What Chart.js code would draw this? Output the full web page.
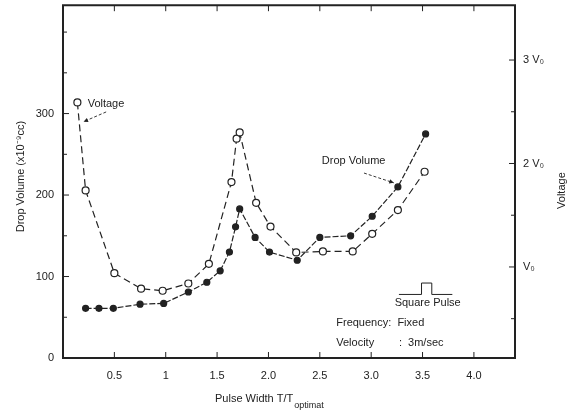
<!DOCTYPE html>
<html>
<head>
<meta charset="utf-8">
<script src="https://cdn.jsdelivr.net/npm/chart.js@4.4.1/dist/chart.umd.min.js"></script>
<style>
  body { margin: 0; background: #fff; }
  canvas { display: block; }
</style>
</head>
<body>
<canvas id="chart" width="568" height="413"></canvas>
<script>
// drop volume (filled dots, left axis, x10^-9 cc)
const dropX = [0.22, 0.35, 0.49, 0.75, 0.98, 1.22, 1.40, 1.53, 1.62, 1.68, 1.72, 1.87, 2.01, 2.28, 2.50, 2.80, 3.01, 3.26, 3.53];
const dropVolume = [61, 61, 61, 66, 67, 81, 93, 107, 130, 161, 183, 148, 130, 120, 148, 150, 174, 210, 275];

// voltage (open circles, right axis, in units of V0)
const voltX = [0.14, 0.22, 0.50, 0.76, 0.97, 1.22, 1.42, 1.64, 1.69, 1.72, 1.88, 2.02, 2.27, 2.53, 2.82, 3.01, 3.26, 3.52];
const voltage = [2.59, 1.74, 0.94, 0.79, 0.77, 0.84, 1.03, 1.82, 2.24, 2.30, 1.62, 1.39, 1.14, 1.15, 1.15, 1.32, 1.55, 1.92];

// tick values and labels
const xTicks = [0.5, 1, 1.5, 2, 2.5, 3, 3.5, 4];
const xTickLabels = ['0.5', '1', '1.5', '2.0', '2.5', '3.0', '3.5', '4.0'];
const leftTicks = [0, 50, 100, 150, 200, 250, 300, 350, 400];
const leftTickLabels = ['0', '', '100', '', '200', '', '300', '', ''];
const rightTicks = [0.5, 1, 1.5, 2, 2.5, 3];
const rightTickLabels = ['', 'V\u2080', '', '2 V\u2080', '', '3 V\u2080'];

const ink = '#222';
const font = '"Liberation Sans", Arial, sans-serif';

function setTicks(values) {
    return function (scale) {
        scale.ticks = values.map(v => ({ value: v }));
    };
}

function labelFrom(values, labels) {
    return function (value) {
        const i = values.indexOf(value);
        return i >= 0 ? labels[i] : '';
    };
}

// keep the plot box where the figure has it, no room kept for label overhang
function fitTo(w, h) {
    return function (scale) {
        if (w !== null) scale.width = w;
        if (h !== null) scale.height = h;
        scale.paddingTop = 0;
        scale.paddingBottom = 0;
        scale.paddingLeft = 0;
        scale.paddingRight = 0;
    };
}

// frame, inward tick marks and the hand-lettered notes of the figure
const paperPlugin = {
    id: 'paper',
    afterDatasetsDraw(chart) {
        const ctx = chart.ctx;
        const a = chart.chartArea;
        const sx = chart.scales.x, sl = chart.scales.y, sr = chart.scales.y1;

        ctx.save();
        ctx.strokeStyle = ink;
        ctx.lineWidth = 2;
        ctx.beginPath();
        ctx.rect(a.left, a.top, a.right - a.left, a.bottom - a.top);
        ctx.stroke();

        ctx.lineWidth = 1;
        ctx.beginPath();
        xTicks.forEach(v => {
            const px = sx.getPixelForValue(v);
            ctx.moveTo(px, a.bottom); ctx.lineTo(px, a.bottom - 6);
            ctx.moveTo(px, a.top); ctx.lineTo(px, a.top + 6);
        });
        leftTicks.forEach((v, i) => {
            const py = sl.getPixelForValue(v);
            const len = leftTickLabels[i] ? 6 : 4;
            ctx.moveTo(a.left, py); ctx.lineTo(a.left + len, py);
        });
        rightTicks.forEach((v, i) => {
            const py = sr.getPixelForValue(v);
            const len = rightTickLabels[i] ? 6 : 4;
            ctx.moveTo(a.right, py); ctx.lineTo(a.right - len, py);
        });
        ctx.stroke();

        // axis titles
        ctx.fillStyle = ink;
        ctx.font = '11px ' + font;
        ctx.textBaseline = 'middle';
        ctx.textAlign = 'center';
        ctx.save();
        ctx.translate(21, (a.top + a.bottom) / 2 - 5);
        ctx.rotate(-Math.PI / 2);
        ctx.fillText('Drop Volume (x10\u207B\u2079cc)', 0, 0);
        ctx.restore();
        ctx.save();
        ctx.translate(562, (a.top + a.bottom) / 2 + 9);
        ctx.rotate(-Math.PI / 2);
        ctx.fillText('Voltage', 0, 0);
        ctx.restore();

        ctx.textAlign = 'left';
        const main = 'Pulse Width T/T';
        const mw = ctx.measureText(main).width;
        const tx = 215;
        ctx.fillText(main, tx, a.bottom + 41);
        ctx.font = '9px ' + font;
        ctx.fillText('optimat', tx + mw + 1, a.bottom + 48);

        // curve labels with leader arrows
        ctx.font = '11px ' + font;
        ctx.fillText('Voltage', sx.getPixelForValue(0.24), sl.getPixelForValue(312));
        ctx.fillText('Drop Volume', sx.getPixelForValue(2.52), sl.getPixelForValue(242));

        function leader(x1, y1, x2, y2) {
            const p1 = [sx.getPixelForValue(x1), sl.getPixelForValue(y1)];
            const p2 = [sx.getPixelForValue(x2), sl.getPixelForValue(y2)];
            ctx.setLineDash([3, 2]);
            ctx.beginPath();
            ctx.moveTo(p1[0], p1[1]); ctx.lineTo(p2[0], p2[1]);
            ctx.stroke();
            ctx.setLineDash([]);
            const ang = Math.atan2(p2[1] - p1[1], p2[0] - p1[0]);
            ctx.beginPath();
            ctx.moveTo(p2[0], p2[1]);
            ctx.lineTo(p2[0] - 5 * Math.cos(ang - 0.45), p2[1] - 5 * Math.sin(ang - 0.45));
            ctx.lineTo(p2[0] - 5 * Math.cos(ang + 0.45), p2[1] - 5 * Math.sin(ang + 0.45));
            ctx.closePath();
            ctx.fill();
        }
        ctx.lineWidth = 0.9;
        leader(0.42, 302, 0.2, 290);
        leader(2.93, 227, 3.22, 215);

        // square pulse symbol
        ctx.lineWidth = 1;
        ctx.beginPath();
        ctx.moveTo(sx.getPixelForValue(3.27), sl.getPixelForValue(78));
        ctx.lineTo(sx.getPixelForValue(3.49), sl.getPixelForValue(78));
        ctx.lineTo(sx.getPixelForValue(3.49), sl.getPixelForValue(92));
        ctx.lineTo(sx.getPixelForValue(3.59), sl.getPixelForValue(92));
        ctx.lineTo(sx.getPixelForValue(3.59), sl.getPixelForValue(78));
        ctx.lineTo(sx.getPixelForValue(3.79), sl.getPixelForValue(78));
        ctx.stroke();

        ctx.textAlign = 'center';
        ctx.fillText('Square Pulse', sx.getPixelForValue(3.55), sl.getPixelForValue(67));
        ctx.textAlign = 'left';
        ctx.fillText('Frequency:  Fixed', sx.getPixelForValue(2.66), sl.getPixelForValue(43));
        ctx.fillText('Velocity', sx.getPixelForValue(2.66), sl.getPixelForValue(19));
        ctx.fillText(':  3m/sec', sx.getPixelForValue(3.27), sl.getPixelForValue(19));
        ctx.restore();
    }
};

new Chart(document.getElementById('chart'), {
    type: 'line',
    data: {
        datasets: [
            {
                label: 'Drop Volume',
                data: dropX.map((x, i) => ({ x: x, y: dropVolume[i] })),
                yAxisID: 'y',
                borderColor: ink,
                borderWidth: 1.2,
                borderDash: [6, 2],
                pointStyle: 'circle',
                pointRadius: 3,
                pointBackgroundColor: ink,
                pointBorderColor: ink,
                tension: 0
            },
            {
                label: 'Voltage',
                data: voltX.map((x, i) => ({ x: x, y: voltage[i] })),
                yAxisID: 'y1',
                borderColor: ink,
                borderWidth: 1.2,
                borderDash: [7, 4],
                pointStyle: 'circle',
                pointRadius: 3.5,
                pointBorderWidth: 1.2,
                pointBackgroundColor: '#fff',
                pointBorderColor: ink,
                tension: 0
            }
        ]
    },
    options: {
        responsive: false,
        animation: false,
        layout: { padding: { top: 5, left: 0, right: 0, bottom: 0 } },
        plugins: {
            legend: { display: false },
            tooltip: { enabled: false }
        },
        scales: {
            x: {
                type: 'linear',
                min: 0,
                max: 4.4,
                grid: { display: false, drawTicks: false },
                border: { display: false },
                afterBuildTicks: setTicks(xTicks),
                afterFit: fitTo(null, 55),
                ticks: {
                    padding: 11,
                    color: ink,
                    font: { family: font, size: 11 },
                    maxRotation: 0,
                    autoSkip: false,
                    callback: labelFrom(xTicks, xTickLabels)
                }
            },
            y: {
                position: 'left',
                min: 0,
                max: 433,
                grid: { display: false, drawTicks: false },
                border: { display: false },
                afterBuildTicks: setTicks(leftTicks),
                afterFit: fitTo(63, null),
                ticks: {
                    padding: 9,
                    color: ink,
                    font: { family: font, size: 11 },
                    autoSkip: false,
                    callback: labelFrom(leftTicks, leftTickLabels)
                }
            },
            y1: {
                position: 'right',
                min: 0.12,
                max: 3.53,
                grid: { display: false, drawTicks: false },
                border: { display: false },
                afterBuildTicks: setTicks(rightTicks),
                afterFit: fitTo(53, null),
                ticks: {
                    padding: 8,
                    color: ink,
                    font: { family: font, size: 11 },
                    autoSkip: false,
                    callback: labelFrom(rightTicks, rightTickLabels)
                }
            }
        }
    },
    plugins: [paperPlugin]
});
</script>
</body>
</html>
